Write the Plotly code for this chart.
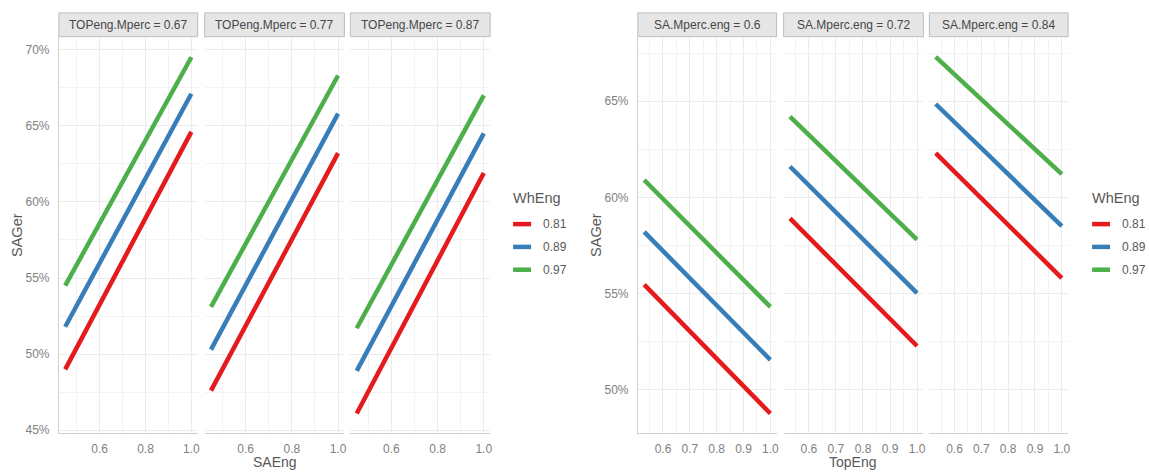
import plotly.graph_objects as go

W, H = 1149, 474

# ---------------- data ----------------
wheng_levels = ["0.81", "0.89", "0.97"]
colors = ["#E41A1C", "#377EB8", "#4DAF4A"]

# Left panel: SAGer vs SAEng, faceted by TOPeng.Mperc
left_facets = ["TOPeng.Mperc = 0.67", "TOPeng.Mperc = 0.77", "TOPeng.Mperc = 0.87"]
saeng_x = [0.45, 1.0]
left_y = {
    "TOPeng.Mperc = 0.67": {"0.81": [0.490, 0.646], "0.89": [0.518, 0.671], "0.97": [0.545, 0.695]},
    "TOPeng.Mperc = 0.77": {"0.81": [0.476, 0.632], "0.89": [0.503, 0.658], "0.97": [0.531, 0.683]},
    "TOPeng.Mperc = 0.87": {"0.81": [0.461, 0.619], "0.89": [0.489, 0.645], "0.97": [0.517, 0.670]},
}

# Right panel: SAGer vs TopEng, faceted by SA.Mperc.eng
right_facets = ["SA.Mperc.eng = 0.6", "SA.Mperc.eng = 0.72", "SA.Mperc.eng = 0.84"]
topeng_x = [0.53, 1.0]
right_y = {
    "SA.Mperc.eng = 0.6": {"0.81": [0.5546, 0.4876], "0.89": [0.582, 0.5155], "0.97": [0.609, 0.543]},
    "SA.Mperc.eng = 0.72": {"0.81": [0.589, 0.5227], "0.89": [0.616, 0.5502], "0.97": [0.642, 0.578]},
    "SA.Mperc.eng = 0.84": {"0.81": [0.623, 0.558], "0.89": [0.6485, 0.585], "0.97": [0.673, 0.612]},
}

# ---------------- layout geometry (pixels) ----------------
left_px = [(59, 198), (205, 345), (351, 491)]
right_px = [(639, 778), (785, 925), (931, 1070)]
plot_top, plot_bot = 37, 437
strip_top = 13

def fx(px):
    return px / W

def fy(py):
    return 1 - py / H

FONT = "Liberation Sans, Arial, sans-serif"
TICK_COL = "#808080"
GRID = "#EBEBEB"
MINOR = "#F3F3F3"
AXLINE = "#CFCFCF"

fig = go.Figure()
layout = {}

def add_axes(idx, px, xrange, xdtick, xminor, yrange, ymatch, show_y):
    xa = "xaxis" if idx == 1 else f"xaxis{idx}"
    ya = "yaxis" if idx == 1 else f"yaxis{idx}"
    xs = "x" if idx == 1 else f"x{idx}"
    ys = "y" if idx == 1 else f"y{idx}"
    layout[xa] = dict(
        domain=[fx(px[0]), fx(px[1])], anchor=ys, range=xrange,
        tick0=0, dtick=xdtick, tickformat=".1f",
        showgrid=True, gridcolor=GRID, gridwidth=1,
        minor=dict(tick0=0, dtick=xminor, showgrid=True, gridcolor=MINOR, gridwidth=1),
        zeroline=False, showline=True, linecolor=AXLINE, linewidth=1,
        tickfont=dict(family=FONT, size=12, color=TICK_COL),
        ticks="", ticklabelstandoff=4,
    )
    ycfg = dict(
        domain=[fy(plot_bot), fy(plot_top)], anchor=xs, range=yrange,
        tick0=0, dtick=0.05, tickformat=".0%",
        showgrid=True, gridcolor=GRID, gridwidth=1,
        minor=dict(tick0=0, dtick=0.025, showgrid=True, gridcolor=MINOR, gridwidth=1),
        zeroline=False, showline=show_y, linecolor=AXLINE, linewidth=1,
        showticklabels=show_y,
        tickfont=dict(family=FONT, size=12, color=TICK_COL),
        ticks="", ticklabelstandoff=6,
    )
    if ymatch:
        ycfg["matches"] = ymatch
    layout[ya] = ycfg
    return xs, ys

shapes = []
annotations = []

def add_strip(px, text):
    shapes.append(dict(type="rect", xref="paper", yref="paper",
                       x0=fx(px[0]), x1=fx(px[1]), y0=fy(plot_top), y1=fy(strip_top),
                       fillcolor="#E6E6E6", line=dict(color="#BDBDBD", width=1), layer="below"))
    annotations.append(dict(xref="paper", yref="paper", x=fx((px[0] + px[1]) / 2),
                            y=fy((plot_top + strip_top) / 2), text=text, showarrow=False,
                            xanchor="center", yanchor="middle",
                            font=dict(family=FONT, size=12, color="#474747")))

left_yrange = [0.448, 0.7085]
right_yrange = [0.4773, 0.6835]
left_xrange = [0.4225, 1.0275]
right_xrange = [0.5065, 1.0235]

idx = 1
for i, fac in enumerate(left_facets):
    xs, ys = add_axes(idx, left_px[i], left_xrange, 0.2, 0.1, left_yrange,
                      None if i == 0 else "y", i == 0)
    for j, lev in enumerate(wheng_levels):
        fig.add_trace(go.Scatter(x=saeng_x, y=left_y[fac][lev], mode="lines",
                                 line=dict(color=colors[j], width=4.5),
                                 xaxis=xs, yaxis=ys, showlegend=False, name=lev))
    add_strip(left_px[i], fac)
    idx += 1

for i, fac in enumerate(right_facets):
    xs, ys = add_axes(idx, right_px[i], right_xrange, 0.1, 0.05, right_yrange,
                      None if i == 0 else "y4", i == 0)
    for j, lev in enumerate(wheng_levels):
        fig.add_trace(go.Scatter(x=topeng_x, y=right_y[fac][lev], mode="lines",
                                 line=dict(color=colors[j], width=4.5),
                                 xaxis=xs, yaxis=ys, showlegend=False, name=lev))
    add_strip(right_px[i], fac)
    idx += 1

TITLE_COL = "#595959"
# axis titles
annotations.append(dict(xref="paper", yref="paper", x=fx(275), y=fy(466), text="SAEng",
                        showarrow=False, xanchor="center", yanchor="middle",
                        font=dict(family=FONT, size=14, color=TITLE_COL)))
annotations.append(dict(xref="paper", yref="paper", x=fx(854), y=fy(466), text="TopEng",
                        showarrow=False, xanchor="center", yanchor="middle",
                        font=dict(family=FONT, size=14, color=TITLE_COL)))
annotations.append(dict(xref="paper", yref="paper", x=fx(17), y=fy(237), text="SAGer",
                        showarrow=False, xanchor="center", yanchor="middle", textangle=-90,
                        font=dict(family=FONT, size=14.5, color=TITLE_COL)))
annotations.append(dict(xref="paper", yref="paper", x=fx(597), y=fy(237), text="SAGer",
                        showarrow=False, xanchor="center", yanchor="middle", textangle=-90,
                        font=dict(family=FONT, size=14.5, color=TITLE_COL)))

# manual legends
for lx in (512, 1092):
    annotations.append(dict(xref="paper", yref="paper", x=fx(lx), y=fy(200), text="WhEng",
                            showarrow=False, xanchor="left", yanchor="middle",
                            font=dict(family=FONT, size=14.5, color=TITLE_COL)))
    for j, lev in enumerate(wheng_levels):
        yy = 226 + 23 * j
        shapes.append(dict(type="line", xref="paper", yref="paper",
                           x0=fx(lx + 2), x1=fx(lx + 20), y0=fy(yy), y1=fy(yy),
                           line=dict(color=colors[j], width=4.5)))
        annotations.append(dict(xref="paper", yref="paper", x=fx(lx + 30), y=fy(yy), text=lev,
                                showarrow=False, xanchor="left", yanchor="middle",
                                font=dict(family=FONT, size=12, color=TITLE_COL)))

fig.update_layout(
    width=W, height=H, margin=dict(l=0, r=0, t=0, b=0),
    paper_bgcolor="white", plot_bgcolor="white",
    shapes=shapes, annotations=annotations, showlegend=False,
    **layout,
)

fig.write_html("out.html", config={"displayModeBar": False},
               post_script="document.body.style.margin='0px';document.body.style.overflow='hidden';")
